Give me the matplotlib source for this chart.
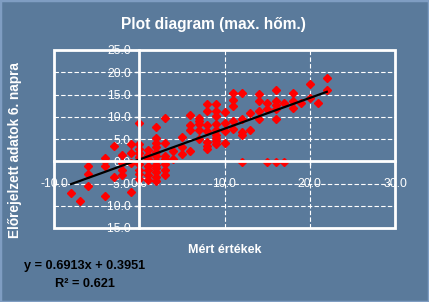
import numpy as np
import matplotlib
matplotlib.use("Agg")
import matplotlib.pyplot as plt
from matplotlib.patches import Rectangle

plt.rcParams['font.family'] = ['Liberation Sans', 'DejaVu Sans']

measured = [
    -8, -7,
    -6, -6, -6,
    -4, -4, -4, -4,
    -3, -3,
    -2, -2, -2, -2,
    -1, -1, -1, -1,
    0, 0, 0, 0, 0, 0, 0, 0, 0,
    1, 1, 1, 1, 1, 1, 1,
    2, 2, 2, 2, 2, 2, 2, 2, 2, 2, 2, 2,
    3, 3, 3, 3, 3, 3, 3,
    4, 4,
    5, 5, 5,
    6, 6, 6, 6,
    7, 7, 7, 7, 7,
    8, 8, 8, 8, 8, 8, 8,
    9, 9, 9, 9, 9, 9, 9, 9, 9,
    10, 10, 10, 10,
    11, 11, 11, 11, 11,
    12, 12, 12, 12, 12,
    13, 13,
    14, 14, 14, 14,
    15, 15, 15,
    16, 16, 16, 16, 16, 16,
    17, 17,
    18, 18, 18,
    19,
    20, 20,
    21,
    22, 22,
]
forecast = [
    -7.2, -9.0,
    -1.0, -2.8, -5.5,
    0.8, 0.0, -1.0, -7.7,
    3.4, -3.5,
    1.5, -0.3, -1.9, -3.2,
    3.8, 1.8, -0.4, -7.0,
    8.7, 3.8, 2.8, 1.9, 1.0, -0.7, -1.9, -2.8, -4.1,
    2.5, 1.5, 0.4, -1.1, -2.0, -3.0, -4.3,
    7.6, 5.3, 4.1, 3.2, 2.1, 1.1, 0.0, -0.8, -1.6, -2.5, -3.5, -4.4,
    9.8, 4.0, 1.1, 0.4, -0.7, -1.9, -3.0,
    2.2, 0.4,
    5.5, 3.2, 1.7,
    10.3, 8.1, 7.0, 2.2,
    9.8, 9.0, 8.3, 7.1, 4.9,
    12.8, 11.3, 8.2, 6.8, 4.3, 3.4, 2.8,
    12.8, 11.3, 10.1, 8.3, 7.1, 6.0, 5.3, 4.5, 3.8,
    11.1, 8.7, 6.8, 4.2,
    15.4, 13.8, 12.4, 9.1, 7.3,
    15.4, 9.4, 6.6, 6.0, -0.1,
    10.8, 7.1,
    15.1, 13.5, 11.2, 9.4,
    13.2, 11.7, -0.1,
    15.9, 13.6, 12.7, 11.8, 9.4, -0.1,
    13.0, -0.1,
    15.4, 13.5, 11.9,
    13.0,
    17.4, 14.2,
    13.2,
    18.6, 15.9,
]

slope = 0.6913
intercept = 0.3951
r_squared = 0.621

x_ticks = [-10, 0, 10, 20, 30]
y_ticks = [-15, -10, -5, 0, 5, 10, 15, 20, 25]

bg = '#5a7a9b'
W, H = 429, 302

fig = plt.figure(figsize=(W / 100, H / 100), dpi=100)
fig.patch.set_facecolor(bg)
fig.patches.append(Rectangle((0, 0), 1, 1, transform=fig.transFigure, fill=False,
                             ec='#7f9dc2', lw=2.5, zorder=0))

ax = fig.add_axes([54 / W, 1 - 228 / H, (395 - 54) / W, (228 - 50) / H])
ax.set_facecolor(bg)

ax.plot(measured, forecast, ls='none', marker='D', ms=3.6, color='#ff0000', mec='#ff0000')

xs = np.array([min(measured), max(measured)])
ax.plot(xs, slope * xs + intercept, color='black', lw=1.6)

ax.set_xlim(-10, 30)
ax.set_ylim(-15, 25)
ax.set_xticks(x_ticks)
ax.set_yticks(y_ticks)
ax.set_xticklabels([f"{v:.1f}" for v in x_ticks])
ax.set_yticklabels([f"{v:.1f}" for v in y_ticks])

ax.grid(True, color='white', ls=(0, (4, 2)), lw=0.8)
ax.set_axisbelow(True)

for s in ['top', 'right']:
    ax.spines[s].set_visible(False)
ax.spines['left'].set_position(('data', 0))
ax.spines['bottom'].set_position(('data', 0))
for s in ['left', 'bottom']:
    ax.spines[s].set_color('white')
    ax.spines[s].set_linewidth(2)
ax.add_patch(Rectangle((0, 0), 1, 1, transform=ax.transAxes, fill=False,
                       ec='white', lw=2, clip_on=False, zorder=2.6))

ax.tick_params(axis='y', direction='out', length=3, width=1, colors='white',
               labelsize=8.7, pad=3)
ax.tick_params(axis='x', direction='out', length=3, width=1, colors='white',
               labelsize=8.7, pad=9)

fig.text(213.5 / W, 1 - 25 / H, "Plot diagram (max. hőm.)", color='white',
         fontsize=11.2, fontweight='bold', ha='center', va='center')
fig.text(15 / W, 1 - 150 / H, "Előrejelzett adatok 6. napra", color='white',
         fontsize=9.8, fontweight='bold', ha='center', va='center', rotation=90)
fig.text(224.5 / W, 1 - 250 / H, "Mért értékek", color='white',
         fontsize=9, fontweight='bold', ha='center', va='center')
fig.text(85 / W, 1 - 266 / H, f"y = {slope}x + {intercept}", color='black',
         fontsize=9.2, fontweight='bold', ha='center', va='center')
fig.text(85 / W, 1 - 284 / H, f"R² = {r_squared}", color='black',
         fontsize=9.2, fontweight='bold', ha='center', va='center')

fig.savefig("out.png", dpi=100, facecolor=fig.get_facecolor())
